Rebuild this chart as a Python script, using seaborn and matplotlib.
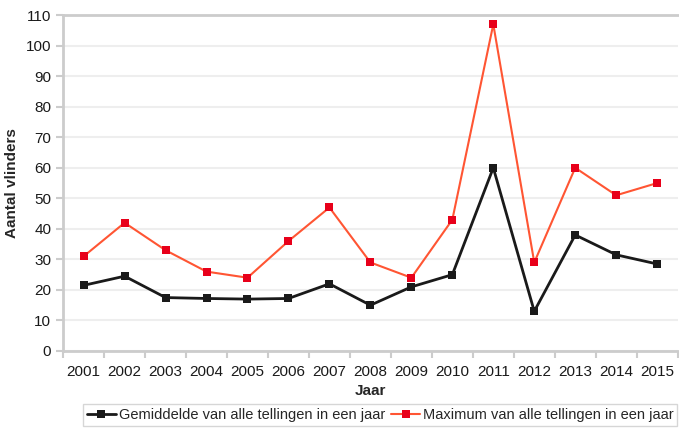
import pandas as pd
import numpy as np
import matplotlib.pyplot as plt
import matplotlib.ticker as ticker
import seaborn as sns

jaren = [2001, 2002, 2003, 2004, 2005, 2006, 2007, 2008, 2009, 2010, 2011, 2012, 2013, 2014, 2015]
gemiddelde = [21.5, 24.5, 17.5, 17.2, 17.0, 17.2, 22.0, 15.0, 21.0, 25.0, 60.0, 13.0, 38.0, 31.5, 28.5]
maximum = [31, 42, 33, 26, 24, 36, 47, 29, 24, 43, 107, 29, 60, 51, 55]

lbl_gem = 'Gemiddelde van alle tellingen in een jaar'
lbl_max = 'Maximum van alle tellingen in een jaar'

df = pd.DataFrame({'jaar': jaren, lbl_gem: gemiddelde, lbl_max: maximum})
df_long = pd.melt(df, id_vars=['jaar'], var_name='reeks', value_name='aantal')

sns.set_style('white')
plt.rcParams['font.family'] = ['Liberation Sans', 'DejaVu Sans']

fig = plt.figure(figsize=(6.79, 4.32), dpi=100)
ax = fig.add_axes([0.093, 0.1875, 0.905, 0.7775])

ax.yaxis.grid(True, color='#eeeeee', linewidth=1.5)
ax.set_axisbelow(True)

sns.lineplot(data=df_long[df_long['reeks'] == lbl_gem], x='jaar', y='aantal', color='#1a1a1a',
             linewidth=2, marker='s', markersize=6, markeredgewidth=0, label=lbl_gem, ax=ax)
sns.lineplot(data=df_long[df_long['reeks'] == lbl_max], x='jaar', y='aantal', color='#ff5533',
             linewidth=1.5, marker='s', markersize=5.5, markerfacecolor='#e8001a', markeredgewidth=0,
             label=lbl_max, ax=ax)

ax.set_xlim(2000.5, 2015.5)
ax.set_ylim(0, 110)
ax.xaxis.set_major_locator(ticker.FixedLocator(jaren))
ax.xaxis.set_minor_locator(ticker.FixedLocator(np.arange(2000.5, 2016, 1)))
ax.yaxis.set_major_locator(ticker.MultipleLocator(10))
ax.tick_params(axis='x', which='major', length=0, pad=10, labelsize=11, labelcolor='#1a1a1a')
ax.tick_params(axis='x', which='minor', length=5, width=1.5, color='#cccccc', direction='out', bottom=True)
ax.tick_params(axis='y', length=5, width=1.5, color='#cccccc', labelsize=11, labelcolor='#1a1a1a', left=True)

for s in ['left', 'bottom', 'top']:
    ax.spines[s].set_color('#cccccc')
    ax.spines[s].set_linewidth(2)
ax.spines['right'].set_visible(False)

ax.set_xlabel('Jaar', fontweight='bold', fontsize=11, labelpad=4)
ax.set_ylabel('Aantal vlinders', fontweight='bold', fontsize=11, labelpad=4)
ax.yaxis.set_label_coords(-0.072, 0.5)

ax.get_legend().remove()
handles, labels = ax.get_legend_handles_labels()
leg = fig.legend(handles, labels, loc='lower center', bbox_to_anchor=(0.56, -0.002), ncol=2, frameon=True,
                 fontsize=10.5, handlelength=2.0, handletextpad=0.2, columnspacing=0.4,
                 borderpad=0.25, fancybox=False)
leg.get_frame().set_edgecolor('#cccccc')
leg.get_frame().set_linewidth(1)

plt.savefig('out.png', dpi=100)
